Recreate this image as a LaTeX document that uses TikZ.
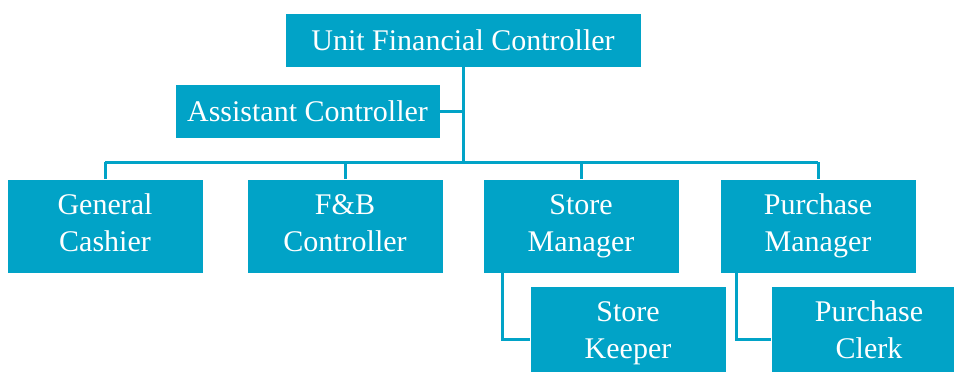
\documentclass[tikz,border=0pt]{standalone}
\usepackage{fontspec}
\setmainfont{LiberationSerif}[Extension=.ttf, UprightFont=*-Regular, BoldFont=*-Bold]
\usetikzlibrary{calc}
\definecolor{boxblue}{RGB}{1,163,199}
\newcommand{\twolines}[2]{\strut #1\\\strut #2}
\tikzset{
  orgbox/.style={rectangle, fill=boxblue, draw=white, line width=0.6pt,
    text=white, align=center, inner sep=0pt,
    font=\fontsize{30}{37}\selectfont},
  widebox/.style={orgbox, minimum height=54pt},
  unitbox/.style={orgbox, minimum width=196pt, minimum height=94pt},
  link/.style={draw=boxblue, line width=3pt}
}
\begin{document}
\begin{tikzpicture}[x=1pt, y=-1pt]
  \useasboundingbox (0,0) rectangle (954,372);
  \clip (0,0) rectangle (954,372);

  % head and staff position
  \node[widebox, minimum width=356pt] (ufc) at (463,40) {Unit Financial Controller};
  \node[widebox, minimum width=265pt] (ac) at (307.5,111) {Assistant Controller};

  % department heads
  \node[unitbox] (gc) at (105,226) {\twolines{General}{Cashier}};
  \node[unitbox] (fb) at (345,226) {\twolines{F\&B}{Controller}};
  \node[unitbox] (sm) at (581,226) {\twolines{Store}{Manager}};
  \node[unitbox] (pm) at (818,226) {\twolines{Purchase}{Manager}};

  % subordinates
  \node[unitbox] (sk) at (628,333) {\twolines{Store}{Keeper}};
  \node[unitbox] (pc) at (869,333) {\twolines{Purchase}{Clerk}};

  % connectors
  \coordinate (bus) at (463,162);
  \draw[link] (ufc.south) -- (bus);
  \draw[link] (ac.east) -- (ac.east -| ufc.south);
  \draw[link] (gc.north |- bus) -- (pm.north |- bus);
  \foreach \n in {gc,fb,sm,pm}
    \draw[link] (\n.north |- bus) -- (\n.north);
  \draw[link] ($(sm.south west)+(20,0)$) |- ($(sk.west)+(0,6)$);
  \draw[link] ($(pm.south west)+(17,0)$) |- ($(pc.west)+(0,6)$);
\end{tikzpicture}
\end{document}
